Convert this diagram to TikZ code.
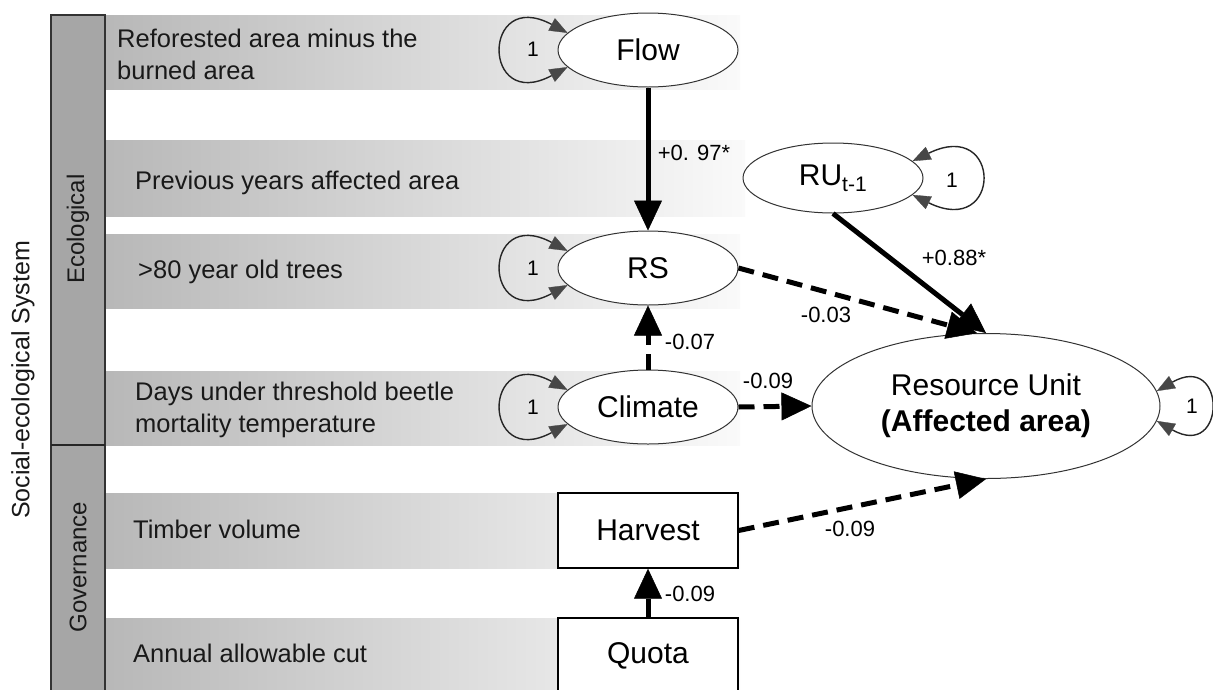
\documentclass[tikz,border=0pt]{standalone}
\usepackage{fontspec}
\setmainfont{Liberation Sans}
\usetikzlibrary{arrows.meta,shapes.geometric}
\begin{document}
\begin{tikzpicture}[x=1pt,y=-1pt,
  lbl/.style={font=\fontsize{25.5}{31.5}\selectfont, anchor=base west, align=left, inner sep=0pt, text=black!90},
  side/.style={font=\fontsize{24}{28}\selectfont, rotate=90, inner sep=0pt, text=black!90},
  var/.style={ellipse, draw=black!80, line width=1pt, fill=white, minimum width=180pt, minimum height=74pt, inner sep=0pt, font=\fontsize{30}{36}\selectfont},
  obs/.style={rectangle, draw=black, line width=1.4pt, fill=white, minimum width=180pt, minimum height=75pt, inner sep=0pt, font=\fontsize{30}{36}\selectfont},
  coef/.style={font=\fontsize{22}{26}\selectfont, inner sep=0pt},
  bigtip/.style={-{Triangle[length=30pt,width=28pt,line width=0.5pt]}},
  solidpath/.style={bigtip, line width=5pt},
  dashpath/.style={bigtip, line width=5pt, dash pattern=on 16pt off 9pt},
  looptip/.tip={Triangle[length=18pt,width=14pt,color=black!72,line width=0.3pt]},
  selfloop/.style={looptip-looptip, line width=1.4pt, draw=black!85},
  one/.style={font=\fontsize{21}{24}\selectfont, inner sep=0pt},
  band/.style={left color=black!28, middle color=black!10, right color=black!2, draw=none},
]
\useasboundingbox (0,0) rectangle (1213,689);
\fill[white] (0,0) rectangle (1213,689);

% gray bands
\shade[band] (105,15) rectangle (740,89);
\shade[band] (105,140) rectangle (745,216);
\shade[band] (105,234) rectangle (740,308);
\shade[band] (105,371) rectangle (740,445);
\shade[band] (105,493) rectangle (740,568);
\shade[band] (105,618) rectangle (740,700);

% left bar
\draw[fill=black!35, draw=black!80, line width=1.3pt] (51,15) rectangle (105,700);
\draw[line width=2pt, draw=black!85] (51,445) -- (105,445);
\node[side] (eco) at (78,229) {Ecological};
\node[side] (gov) at (78,567) {Governance};
\node[side, font=\fontsize{25}{30}\selectfont] (ses) at (23,380) {Social-ecological System};

% row labels
\node[lbl] (t1) at (117,79) {Reforested area minus the\\burned area};
\node[lbl] (t2) at (135,189) {Previous years affected area};
\node[lbl] (t3) at (138,278) {>80 year old trees};
\node[lbl] (t4) at (135,432) {Days under threshold beetle\\mortality temperature};
\node[lbl] (t5) at (133,538) {Timber volume};
\node[lbl] (t6) at (133,662) {Annual allowable cut};

% variables
\node[var] (flow) at (648,50) {Flow};
\node[var] (rs) at (648,268) {RS};
\node[var] (clim) at (648,407) {Climate};
\node[var, minimum height=70pt] (rut) at (833,178) {RU\textsubscript{t-1}};
\node[var, minimum width=348pt, minimum height=145pt, align=center] (ru) at (986,406) {Resource Unit\\\textbf{(Affected area)}};
\node[obs] (harv) at (648,530.5) {Harvest};
\node[obs] (quota) at (648,655.5) {Quota};

% self loops
\draw[selfloop] (flow.168) .. controls +(-86,-46) and +(-86,46) .. (flow.192);
\node[one] (l1) at (533,49) {1};
\draw[selfloop] (rs.168) .. controls +(-86,-46) and +(-86,46) .. (rs.192);
\node[one] (l2) at (533,268) {1};
\draw[selfloop] (clim.168) .. controls +(-86,-46) and +(-86,46) .. (clim.192);
\node[one] (l3) at (533,407) {1};
\draw[selfloop] (rut.12) .. controls +(90,-44) and +(90,44) .. (rut.-12);
\node[one] (l4) at (952,180) {1};
\draw[selfloop] (ru.5) .. controls +(70,-40) and +(70,40) .. (ru.-5);
\node[one] (l5) at (1192,406) {1};

% paths
\draw[solidpath] (flow.south) -- (rs.north);
\draw[dashpath] (rs.east) -- (ru.97);
\draw[solidpath] (rut.south) -- (ru.north);
\draw[dashpath] (clim.north) -- (rs.south);
\draw[dashpath] (clim.east) -- (ru.west);
\draw[dashpath] (harv.east) -- (ru.south);
\draw[solidpath] (quota.north) -- (harv.south);

% coefficients
\node[coef] (c1) at (694,153) {+0. 97*};
\node[coef] (c2) at (954,258) {+0.88*};
\node[coef] (c3) at (826,315) {-0.03};
\node[coef] (c4) at (690,342) {-0.07};
\node[coef] (c5) at (768,381) {-0.09};
\node[coef] (c6) at (850,529) {-0.09};
\node[coef] (c7) at (690,594) {-0.09};
\end{tikzpicture}
\end{document}
